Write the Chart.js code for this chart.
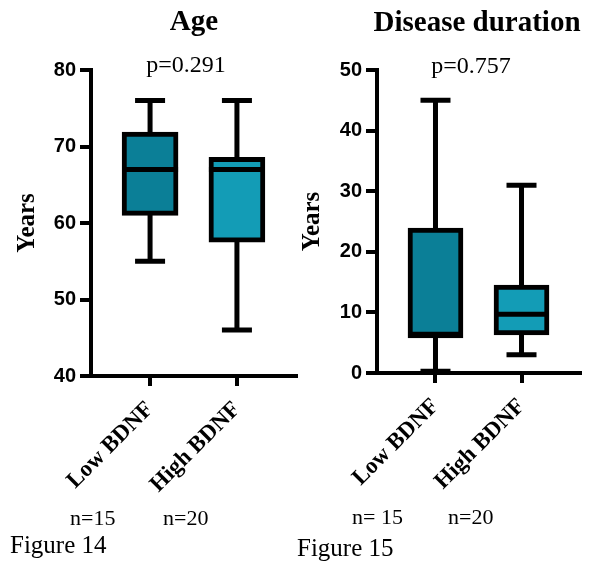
<!DOCTYPE html>
<html>
<head>
<meta charset="utf-8">
<script src="https://cdn.jsdelivr.net/npm/chart.js@4.4.0/dist/chart.umd.min.js"></script>
<style>
  body { margin: 0; background: #fff; }
  #page { position: relative; width: 598px; height: 561px; overflow: hidden; }
  .wrap { position: absolute; top: 0; height: 561px; }
  .note { position: absolute; font-family: "Liberation Serif", "Times New Roman", serif; line-height: 1; color: #000; white-space: nowrap; }
  .mid { transform: translateX(-50%); }
  .bold { font-weight: bold; }
</style>
</head>
<body>
<div id="page">
  <div class="wrap" style="left:0;width:298px"><canvas id="ageChart"></canvas></div>
  <div class="wrap" style="left:290px;width:308px"><canvas id="durationChart"></canvas></div>

  <div class="note bold mid" style="left:194px;top:5.7px;font-size:29px">Age</div>
  <div class="note bold mid" style="left:477px;top:6.7px;font-size:29px">Disease duration</div>
  <div class="note mid" style="left:186px;top:52px;font-size:24px">p=0.291</div>
  <div class="note mid" style="left:471px;top:53px;font-size:24px">p=0.757</div>
  <div class="note" style="left:70px;top:506.5px;font-size:22px">n=15</div>
  <div class="note" style="left:163px;top:506.5px;font-size:22px">n=20</div>
  <div class="note" style="left:10px;top:532px;font-size:25px">Figure 14</div>
  <div class="note" style="left:352px;top:506px;font-size:22px">n= 15</div>
  <div class="note" style="left:448px;top:506px;font-size:22px">n=20</div>
  <div class="note" style="left:297px;top:535px;font-size:25px">Figure 15</div>
</div>
<script>
const groups = ['Low BDNF', 'High BDNF'];
const boxColors = ['#0B7F97', '#139CB6'];

// Age (years)
const ageMin = [55, 46];
const ageQ1 = [61, 57.5];
const ageMedian = [67, 67];
const ageQ3 = [71.9, 68.6];
const ageMax = [76, 76];
const ageTicks = [40, 50, 60, 70, 80];

// Disease duration (years)
const durMin = [0.3, 3];
const durQ1 = [5.8, 6.3];
const durMedian = [6.4, 9.7];
const durQ3 = [23.9, 14.5];
const durMax = [45, 31];
const durTicks = [0, 10, 20, 30, 40, 50];

// whiskers behind the boxes, medians on top
const boxPlot = {
    id: 'boxPlot',
    beforeDatasetsDraw(chart, args, opts) {
        const {ctx, scales: {x, y}} = chart;
        ctx.save();
        ctx.strokeStyle = '#000';
        ctx.lineWidth = 5;
        ctx.lineCap = 'butt';
        opts.mins.forEach((lo, i) => {
            const px = x.getPixelForValue(i);
            const top = y.getPixelForValue(opts.maxs[i]);
            const bottom = y.getPixelForValue(lo);
            ctx.beginPath();
            ctx.moveTo(px, top);
            ctx.lineTo(px, bottom);
            ctx.moveTo(px - 15, top);
            ctx.lineTo(px + 15, top);
            ctx.moveTo(px - 15, bottom);
            ctx.lineTo(px + 15, bottom);
            ctx.stroke();
        });
        ctx.restore();
    },
    afterDatasetsDraw(chart, args, opts) {
        const {ctx, scales: {y}} = chart;
        const bars = chart.getDatasetMeta(0).data;
        ctx.save();
        ctx.strokeStyle = '#000';
        ctx.lineWidth = 5;
        opts.medians.forEach((m, i) => {
            const bar = bars[i];
            const py = y.getPixelForValue(m);
            ctx.beginPath();
            ctx.moveTo(bar.x - bar.width / 2, py);
            ctx.lineTo(bar.x + bar.width / 2, py);
            ctx.stroke();
        });
        ctx.restore();
    }
};

function makeChart(id, q1, q3, mins, maxs, medians, ticks, opt) {
    return new Chart(document.getElementById(id), {
        type: 'bar',
        data: {
            datasets: [{
                data: groups.map((g, i) => ({x: i, y: [q1[i], q3[i]]})),
                backgroundColor: boxColors,
                borderColor: '#000',
                borderWidth: 5,
                borderSkipped: false,
                barThickness: opt.boxWidth
            }]
        },
        options: {
            responsive: true,
            maintainAspectRatio: false,
            animation: false,
            layout: { padding: { top: 70, right: opt.padRight, left: 0, bottom: 0 } },
            plugins: {
                legend: { display: false },
                tooltip: { enabled: false },
                boxPlot: { mins: mins, maxs: maxs, medians: medians }
            },
            scales: {
                x: {
                    type: 'linear',
                    offset: false,
                    min: -0.68,
                    max: 1.68,
                    afterBuildTicks: s => { s.ticks = groups.map((g, i) => ({value: i})); },
                    afterFit: s => { s.height = opt.xHeight; },
                    ticks: {
                        callback: v => groups[v],
                        minRotation: 45,
                        maxRotation: 45,
                        padding: 10,
                        color: '#000',
                        font: { family: 'Liberation Serif', weight: 'bold', size: 23 }
                    },
                    grid: { display: true, offset: false, drawOnChartArea: false, drawTicks: true, tickLength: 10, color: '#000', lineWidth: 4 },
                    border: { display: true, color: '#000', width: 4 }
                },
                y: {
                    min: ticks[0],
                    max: ticks[ticks.length - 1],
                    afterBuildTicks: s => { s.ticks = ticks.map(v => ({value: v})); },
                    afterFit: s => { s.width = opt.yWidth; },
                    ticks: {
                        padding: 4,
                        color: '#000',
                        font: { family: 'Liberation Sans', weight: 'bold', size: 20 }
                    },
                    grid: { display: true, drawOnChartArea: false, drawTicks: true, tickLength: 11, color: '#000', lineWidth: 4 },
                    border: { display: true, color: '#000', width: 4 },
                    title: {
                        display: true,
                        text: 'Years',
                        color: '#000',
                        padding: { top: opt.titlePad, bottom: 0 },
                        font: { family: 'Liberation Serif', weight: 'bold', size: 25 }
                    }
                }
            }
        },
        plugins: [boxPlot]
    });
}

makeChart('ageChart', ageQ1, ageQ3, ageMin, ageMax, ageMedian, ageTicks,
    { padRight: 2, xHeight: 185, yWidth: 91, titlePad: 13, boxWidth: 56 });
makeChart('durationChart', durQ1, durQ3, durMin, durMax, durMedian, durTicks,
    { padRight: 18, xHeight: 188, yWidth: 87, titlePad: 8, boxWidth: 55 });
</script>
</body>
</html>
